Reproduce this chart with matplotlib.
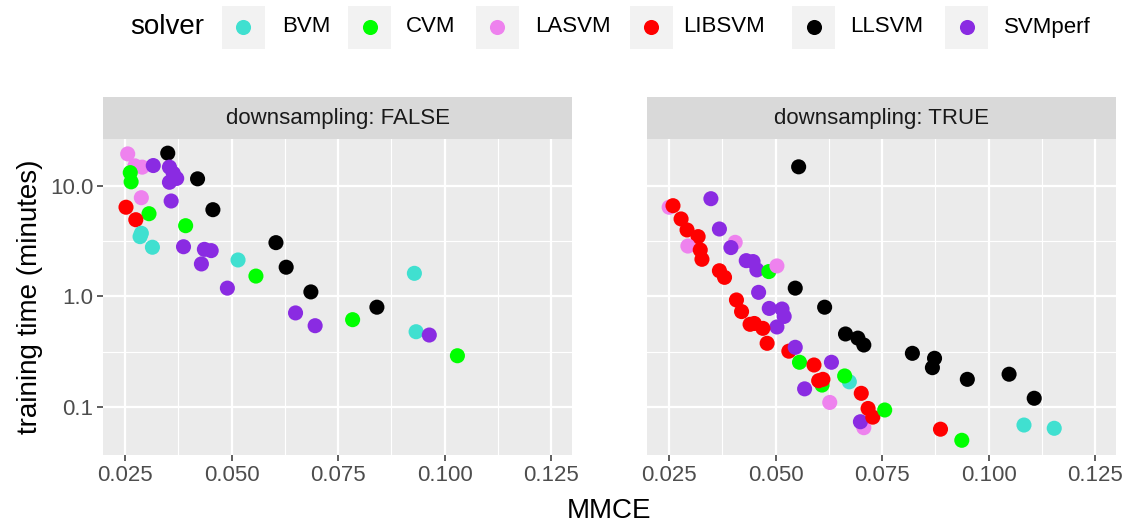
import matplotlib
matplotlib.use('Agg')
import matplotlib.pyplot as plt
from matplotlib.patches import Rectangle
from matplotlib.ticker import FixedLocator, FixedFormatter, NullFormatter

plt.rcParams['font.family'] = ['Liberation Sans', 'DejaVu Sans']

solvers = ['BVM', 'CVM', 'LASVM', 'LIBSVM', 'LLSVM', 'SVMperf']
solver_colors = ['#40E0D0', '#00FF00', '#EE82EE', '#FF0000', '#000000', '#8A2BE2']

# downsampling: FALSE
false_solver = ['LASVM', 'LASVM', 'LASVM', 'SVMperf', 'LLSVM', 'SVMperf', 'SVMperf', 'SVMperf',
                'SVMperf', 'LLSVM', 'CVM', 'CVM', 'LASVM', 'SVMperf', 'LIBSVM', 'CVM', 'LLSVM',
                'LIBSVM', 'CVM', 'BVM', 'BVM', 'BVM', 'SVMperf', 'SVMperf', 'SVMperf', 'SVMperf',
                'LLSVM', 'BVM', 'LLSVM', 'CVM', 'SVMperf', 'LLSVM', 'SVMperf', 'SVMperf', 'BVM',
                'LLSVM', 'CVM', 'BVM', 'SVMperf', 'CVM']
false_mmce = [0.0256, 0.0273, 0.0290, 0.0316, 0.0350, 0.0354, 0.0363, 0.0371,
              0.0354, 0.0420, 0.0262, 0.0264, 0.0288, 0.0358, 0.0252, 0.0306, 0.0456,
              0.0275, 0.0392, 0.0288, 0.0285, 0.0314, 0.0387, 0.0436, 0.0452, 0.0429,
              0.0604, 0.0515, 0.0628, 0.0557, 0.0490, 0.0686, 0.0650, 0.0696, 0.0929,
              0.0841, 0.0784, 0.0933, 0.0964, 0.1030]
false_time = [19.5, 15.2, 14.8, 15.3, 19.8, 14.8, 13.0, 11.7,
              10.8, 11.6, 13.2, 10.9, 7.83, 7.31, 6.42, 5.61, 6.10,
              4.95, 4.37, 3.73, 3.48, 2.79, 2.82, 2.67, 2.60, 1.97,
              3.07, 2.14, 1.84, 1.53, 1.19, 1.10, 0.71, 0.544, 1.62,
              0.80, 0.617, 0.48, 0.448, 0.291]

# downsampling: TRUE
true_solver = ['LLSVM', 'SVMperf', 'LASVM', 'LIBSVM', 'LIBSVM', 'LIBSVM', 'LIBSVM', 'LASVM',
               'LIBSVM', 'LIBSVM', 'SVMperf', 'LASVM', 'SVMperf', 'SVMperf', 'SVMperf', 'SVMperf',
               'CVM', 'LASVM', 'LIBSVM', 'LIBSVM', 'LLSVM', 'SVMperf', 'LLSVM', 'LIBSVM', 'LIBSVM',
               'SVMperf', 'SVMperf', 'SVMperf', 'SVMperf', 'LIBSVM', 'LIBSVM', 'LIBSVM', 'LIBSVM',
               'LLSVM', 'LLSVM', 'LLSVM', 'LIBSVM', 'SVMperf', 'CVM', 'LIBSVM', 'SVMperf', 'CVM',
               'LIBSVM', 'LIBSVM', 'SVMperf', 'BVM', 'CVM', 'LIBSVM', 'LASVM', 'LASVM', 'SVMperf',
               'LIBSVM', 'LIBSVM', 'LLSVM', 'LLSVM', 'LLSVM', 'LLSVM', 'LLSVM', 'LLSVM', 'CVM',
               'LIBSVM', 'CVM', 'BVM', 'BVM']
true_mmce = [0.0554, 0.0348, 0.0250, 0.0259, 0.0278, 0.0292, 0.0318, 0.0294,
             0.0323, 0.0327, 0.0368, 0.0405, 0.0395, 0.0431, 0.0447, 0.0456,
             0.0484, 0.0503, 0.0368, 0.0380, 0.0546, 0.0460, 0.0615, 0.0408, 0.0420,
             0.0485, 0.0515, 0.0520, 0.0503, 0.0440, 0.0450, 0.0470, 0.0480,
             0.0664, 0.0693, 0.0707, 0.0531, 0.0546, 0.0556, 0.0590, 0.0631, 0.0609,
             0.0601, 0.0611, 0.0568, 0.0673, 0.0662, 0.0701, 0.0627, 0.0707, 0.0699,
             0.0717, 0.0728, 0.0821, 0.0873, 0.0868, 0.0950, 0.1048, 0.1107, 0.0756,
             0.0887, 0.0937, 0.1083, 0.1154]
true_time = [14.9, 7.67, 6.42, 6.63, 5.03, 4.00, 3.48, 2.86,
             2.64, 2.17, 4.08, 3.09, 2.77, 2.11, 2.07, 1.74,
             1.68, 1.89, 1.71, 1.49, 1.19, 1.09, 0.80, 0.93, 0.73,
             0.78, 0.77, 0.66, 0.53, 0.56, 0.57, 0.515, 0.377,
             0.458, 0.42, 0.364, 0.32, 0.347, 0.254, 0.24, 0.254, 0.158,
             0.173, 0.178, 0.146, 0.169, 0.191, 0.133, 0.11, 0.065, 0.0736,
             0.097, 0.081, 0.306, 0.276, 0.227, 0.178, 0.198, 0.12, 0.094,
             0.063, 0.050, 0.0687, 0.0642]

x_ticks = [0.025, 0.050, 0.075, 0.100, 0.125]
x_tick_labels = ['0.025', '0.050', '0.075', '0.100', '0.125']
y_ticks = [0.1, 1.0, 10.0]
y_tick_labels = ['0.1', '1.0', '10.0']
panel_titles = ['downsampling: FALSE', 'downsampling: TRUE']

color_of = dict(zip(solvers, solver_colors))

W, H = 1128, 523
fig = plt.figure(figsize=(W / 100, H / 100), dpi=100)

def fx(px):
    return px / W

def fy(py):
    return 1 - py / H

panel_left = [103, 647]
panel_w = 469
panel_top, panel_bot, strip_top = 139, 455, 97

panels = [(false_solver, false_mmce, false_time), (true_solver, true_mmce, true_time)]
for i, (sv, xs, ys) in enumerate(panels):
    ax = fig.add_axes([fx(panel_left[i]), fy(panel_bot), panel_w / W, (panel_bot - panel_top) / H])
    ax.set_facecolor('#EBEBEB')
    ax.set_yscale('log')
    ax.set_xlim(0.0198, 0.1299)
    ax.set_ylim(0.0368, 26.6)
    ax.xaxis.set_major_locator(FixedLocator(x_ticks))
    ax.xaxis.set_major_formatter(FixedFormatter(x_tick_labels))
    ax.xaxis.set_minor_locator(FixedLocator([0.0375, 0.0625, 0.0875, 0.1125]))
    ax.yaxis.set_major_locator(FixedLocator(y_ticks))
    ax.yaxis.set_major_formatter(FixedFormatter(y_tick_labels))
    ax.yaxis.set_minor_locator(FixedLocator([10 ** -0.5, 10 ** 0.5]))
    ax.yaxis.set_minor_formatter(NullFormatter())
    ax.grid(which='major', color='white', lw=1.6)
    ax.grid(which='minor', color='white', lw=0.8)
    ax.set_axisbelow(True)
    for s in ax.spines.values():
        s.set_visible(False)
    ax.tick_params(which='minor', length=0)
    ax.tick_params(which='major', length=4, width=1.1, color='#333333',
                   labelsize=16, labelcolor='#4D4D4D', pad=3)
    if i == 1:
        ax.tick_params(axis='y', which='major', length=0, labelleft=False)
    ax.scatter(xs, ys, c=[color_of[s] for s in sv], s=118, linewidths=0, zorder=3)

    sax = fig.add_axes([fx(panel_left[i]), fy(panel_top), panel_w / W, (panel_top - strip_top) / H])
    sax.set_facecolor('#D9D9D9')
    sax.set_xticks([])
    sax.set_yticks([])
    for s in sax.spines.values():
        s.set_visible(False)
    sax.text(0.5, 0.5, panel_titles[i], ha='center', va='center', fontsize=16,
             color='#1A1A1A', transform=sax.transAxes)

fig.text(fx(609), fy(511), 'MMCE', ha='center', va='center', fontsize=20)
fig.text(fx(30), fy(297), 'training time (minutes)', ha='center', va='center',
         rotation=90, fontsize=20)

# legend
lax = fig.add_axes([0, 0, 1, 1])
lax.set_xlim(0, W)
lax.set_ylim(H, 0)
lax.axis('off')
lax.text(130, 27, 'solver', ha='left', va='center', fontsize=20)
key_x = [243, 369.5, 497, 651, 813.5, 966.5]
label_x = [282, 406, 535, 683, 850, 1004]
for k, name in enumerate(solvers):
    lax.add_patch(Rectangle((key_x[k] - 21.5, 5.5), 43, 43, facecolor='#F2F2F2', edgecolor='none'))
    lax.scatter([key_x[k]], [27], c=solver_colors[k], s=118, linewidths=0)
    lax.text(label_x[k], 27, name, ha='left', va='center', fontsize=16)

fig.savefig('out.png', dpi=100)
